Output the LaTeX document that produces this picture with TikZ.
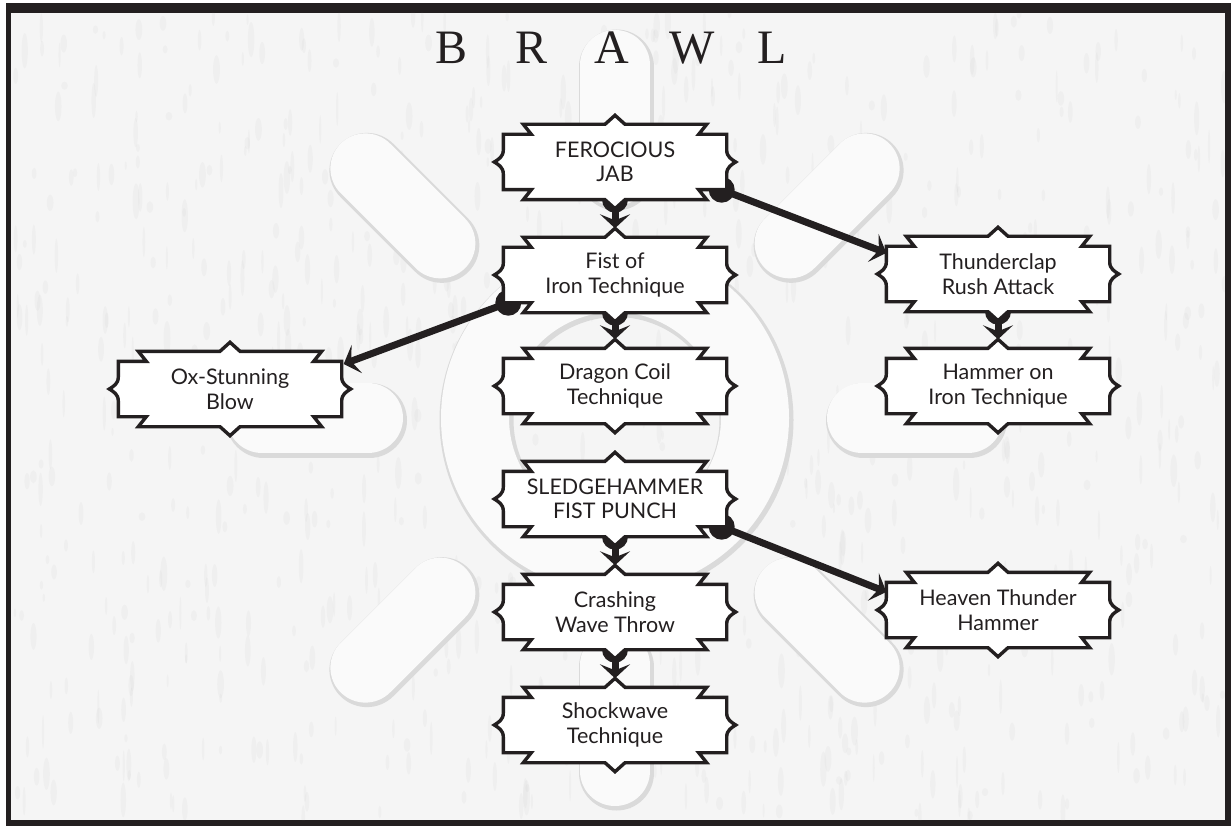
\documentclass[tikz,border=0pt]{standalone}
\usepackage{fontspec}
\newfontfamily\labelfont{Lato}
\newfontfamily\titlefont{Liberation Serif}
\usetikzlibrary{arrows.meta,calc}

\definecolor{ink}{HTML}{231F20}
\definecolor{paper}{HTML}{F5F5F5}
\definecolor{embody}{HTML}{FAFAFA}
\definecolor{emedge}{HTML}{DADADA}

% banner outline: notched side tabs, barbed steps, peaks top and bottom
\def\bnSide{28pt}   % width of the side tabs
\def\bnDrop{10pt}   % how far the side tabs sit inside the top and bottom
\def\bnBarb{8pt}    % barb at each step
\def\bnNd{9pt}      % depth of the side notches
\def\bnNh{12pt}     % half height of the side notches
\def\bnPw{10pt}     % half width of the peaks
\def\bnPh{9pt}      % height of the peaks

\makeatletter
\pgfdeclareshape{banner}{
  \inheritsavedanchors[from=rectangle]
  \inheritanchorborder[from=rectangle]
  \inheritanchor[from=rectangle]{center}
  \inheritanchor[from=rectangle]{north}
  \inheritanchor[from=rectangle]{south}
  \inheritanchor[from=rectangle]{east}
  \inheritanchor[from=rectangle]{west}
  \inheritanchor[from=rectangle]{north east}
  \inheritanchor[from=rectangle]{north west}
  \inheritanchor[from=rectangle]{south east}
  \inheritanchor[from=rectangle]{south west}
  \inheritanchor[from=rectangle]{text}
  \inheritanchor[from=rectangle]{base}
  \inheritanchor[from=rectangle]{mid}
  \backgroundpath{
    \southwest \edef\bxl{\the\pgf@x}\edef\byb{\the\pgf@y}
    \northeast \edef\bxr{\the\pgf@x}\edef\byt{\the\pgf@y}
    \pgfmathsetmacro\bxc{(\bxl+\bxr)/2}
    \pgfmathsetmacro\byc{(\byb+\byt)/2}
    \pgfpathmoveto{\pgfpoint{\bxl}{\byt-\bnDrop}}
    \pgfpathlineto{\pgfpoint{\bxl+\bnSide}{\byt-\bnDrop}}
    \pgfpathlineto{\pgfpoint{\bxl+\bnSide-\bnBarb}{\byt}}
    \pgfpathlineto{\pgfpoint{\bxc-\bnPw}{\byt}}
    \pgfpathlineto{\pgfpoint{\bxc}{\byt+\bnPh}}
    \pgfpathlineto{\pgfpoint{\bxc+\bnPw}{\byt}}
    \pgfpathlineto{\pgfpoint{\bxr-\bnSide+\bnBarb}{\byt}}
    \pgfpathlineto{\pgfpoint{\bxr-\bnSide}{\byt-\bnDrop}}
    \pgfpathlineto{\pgfpoint{\bxr}{\byt-\bnDrop}}
    \pgfpathlineto{\pgfpoint{\bxr}{\byc+\bnNh}}
    \pgfpathcurveto{\pgfpoint{\bxr}{\byc+0.4*\bnNh}}{\pgfpoint{\bxr+0.6*\bnNd}{\byc+0.2*\bnNh}}{\pgfpoint{\bxr+\bnNd}{\byc}}
    \pgfpathcurveto{\pgfpoint{\bxr+0.6*\bnNd}{\byc-0.2*\bnNh}}{\pgfpoint{\bxr}{\byc-0.4*\bnNh}}{\pgfpoint{\bxr}{\byc-\bnNh}}
    \pgfpathlineto{\pgfpoint{\bxr}{\byb+\bnDrop}}
    \pgfpathlineto{\pgfpoint{\bxr-\bnSide}{\byb+\bnDrop}}
    \pgfpathlineto{\pgfpoint{\bxr-\bnSide+\bnBarb}{\byb}}
    \pgfpathlineto{\pgfpoint{\bxc+\bnPw}{\byb}}
    \pgfpathlineto{\pgfpoint{\bxc}{\byb-\bnPh}}
    \pgfpathlineto{\pgfpoint{\bxc-\bnPw}{\byb}}
    \pgfpathlineto{\pgfpoint{\bxl+\bnSide-\bnBarb}{\byb}}
    \pgfpathlineto{\pgfpoint{\bxl+\bnSide}{\byb+\bnDrop}}
    \pgfpathlineto{\pgfpoint{\bxl}{\byb+\bnDrop}}
    \pgfpathlineto{\pgfpoint{\bxl}{\byc-\bnNh}}
    \pgfpathcurveto{\pgfpoint{\bxl}{\byc-0.4*\bnNh}}{\pgfpoint{\bxl-0.6*\bnNd}{\byc-0.2*\bnNh}}{\pgfpoint{\bxl-\bnNd}{\byc}}
    \pgfpathcurveto{\pgfpoint{\bxl-0.6*\bnNd}{\byc+0.2*\bnNh}}{\pgfpoint{\bxl}{\byc+0.4*\bnNh}}{\pgfpoint{\bxl}{\byc+\bnNh}}
    \pgfpathclose
  }
}
\makeatother

\pgfdeclarelayer{paperlayer}
\pgfdeclarelayer{links}
\pgfsetlayers{paperlayer,links,main}

\tikzset{
  skill/.style={shape=banner, draw=ink, fill=white, line width=3.4pt,
    minimum width=220pt, minimum height=72pt, inner sep=0pt, align=center,
    text=ink, font=\labelfont\fontsize{21.5}{24.5}\selectfont},
  link/.style={draw=ink, line width=7pt,
    -{Stealth[length=14pt,width=30pt,inset=6pt]}},
  knob/.style={fill=ink},
  spokeshade/.style={line width=75pt, line cap=round, draw=emedge},
  spokebody/.style={line width=70pt, line cap=round, draw=embody},
}

\begin{document}
\begin{tikzpicture}[x=1pt,y=-1pt]
\useasboundingbox (0,0) rectangle (1231,826);

% ---------- nodes ----------
\node[skill] (fe) at (615,162) {FEROCIOUS\\JAB};
\node[skill] (fi) at (615,275) {Fist of\\Iron Technique};
\node[skill] (dr) at (615,386) {Dragon Coil\\Technique};
\node[skill] (ox) at (230,389) {Ox-Stunning\\Blow};
\node[skill] (th) at (998,274) {Thunderclap\\Rush Attack};
\node[skill] (ha) at (998,386) {Hammer on\\Iron Technique};
\node[skill] (sl) at (615,499) {SLEDGEHAMMER\\FIST PUNCH};
\node[skill] (cr) at (615,612) {Crashing\\Wave Throw};
\node[skill] (sh) at (615,725) {Shockwave\\Technique};
\node[skill] (he) at (998,610) {Heaven Thunder\\Hammer};

\node[font=\titlefont\fontsize{48}{52}\selectfont, text=ink, inner sep=0pt] (title) at (612,48)
  {\makebox[80pt]{B}\makebox[80pt]{R}\makebox[80pt]{A}\makebox[80pt]{W}\makebox[80pt]{L}};

% ---------- paper, frame and emblem ----------
\begin{pgfonlayer}{paperlayer}
  \fill[white] (0,0) rectangle (1231,826);
  \fill[ink] (6,3) rectangle (1231,826);
  \fill[paper] (11,13) rectangle (1225,820);
  % faint streaky paper grain
  \begin{scope}
    \clip (11,13) rectangle (1225,820);
    \pgfmathsetseed{4127}
    \foreach \i in {1,...,900} {
      \pgfmathsetmacro\gx{11+rnd*1214}
      \pgfmathsetmacro\gy{13+rnd*807}
      \pgfmathsetmacro\gw{1+rnd*2.5}
      \pgfmathsetmacro\gh{4+rnd*14}
      \fill[gray, opacity=0.045] (\gx,\gy) ellipse ({\gw pt} and {\gh pt});
    }
  \end{scope}
  \coordinate (emc) at (615,418);
  \foreach \a in {0,45,...,315} {
    \draw[spokeshade] ($(emc)+(\a:247)+(1.5,2)$) -- ($(emc)+(\a:353)+(1.5,2)$);
    \draw[spokebody] ($(emc)+(\a:247)$) -- ($(emc)+(\a:353)$);
  }
  \fill[emedge, even odd rule] ($(emc)+(1.5,2)$) circle (177pt) ($(emc)+(1.5,2)$) circle (103pt);
  \fill[embody, even odd rule] (emc) circle (174pt) (emc) circle (106pt);
\end{pgfonlayer}

% ---------- connectors ----------
\begin{pgfonlayer}{links}
  \foreach \u/\v in {fe/fi, fi/dr, th/ha, sl/cr, cr/sh} {
    \fill[knob] (\u.south) circle (13pt);
    \draw[link] (\u.south) -- ($(\v.north)+(0,-9)$);
  }
  \fill[knob] ($(fe.south east)+(-5,-10)$) circle (13pt);
  \draw[link] ($(fe.south east)+(-5,-10)$) -- ($(th.west)+(0,-21)$);
  \fill[knob] ($(fi.south west)+(5,-10)$) circle (13pt);
  \draw[link] ($(fi.south west)+(5,-10)$) -- ($(ox.east)+(2,-25)$);
  \fill[knob] ($(sl.south east)+(-5,-10)$) circle (13pt);
  \draw[link] ($(sl.south east)+(-5,-10)$) -- ($(he.west)+(0,-18)$);
\end{pgfonlayer}
\end{tikzpicture}
\end{document}
